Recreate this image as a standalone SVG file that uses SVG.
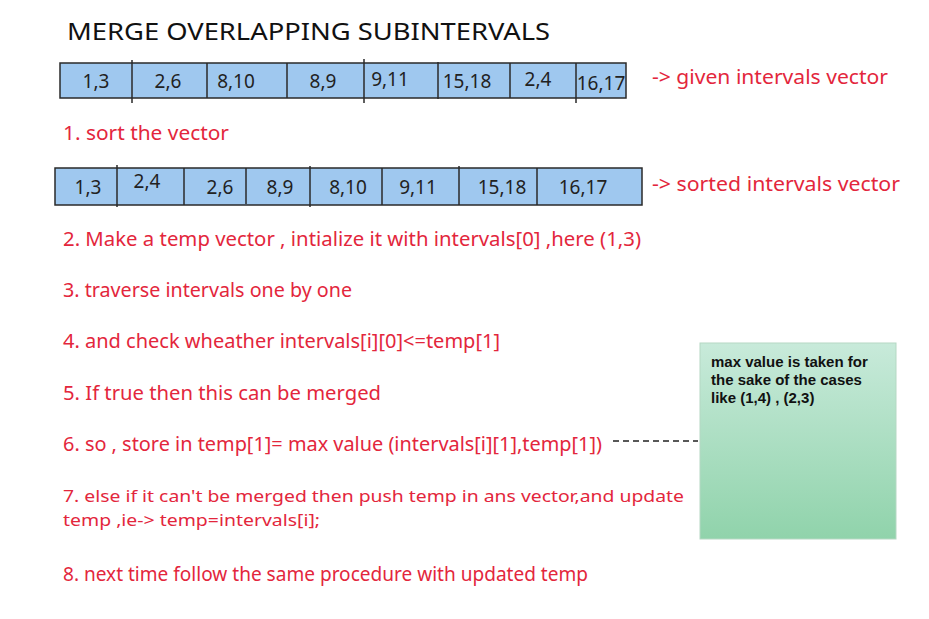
<svg xmlns="http://www.w3.org/2000/svg" width="929" height="619" viewBox="0 0 929 619">
<defs>
<linearGradient id="g" x1="0" y1="0" x2="0" y2="1">
<stop offset="0" stop-color="#c8eada"/>
<stop offset="1" stop-color="#90d3ab"/>
</linearGradient>
<style>
.t{font-family:"Noto Sans","Liberation Sans",sans-serif;fill:#e3263c;font-size:19px}
.s{font-size:17px}
.n{font-family:"Noto Sans","Liberation Sans",sans-serif;fill:#222;font-size:19px;text-anchor:middle}
.cell{fill:#9fc8ef;stroke:#2a2a2a;stroke-width:1.5}
.div{stroke:#2a2a2a;stroke-width:1.5}
.note{font-family:"Liberation Sans",Arial,sans-serif;font-weight:bold;font-size:15px;fill:#111}
</style>
</defs>
<rect width="929" height="619" fill="#fff"/>
<text x="67" y="40" font-family="Noto Sans, Liberation Sans, sans-serif" font-size="23" fill="#111" textLength="483" lengthAdjust="spacingAndGlyphs">MERGE OVERLAPPING SUBINTERVALS</text>

<g id="given-array">
<rect class="cell" x="60" y="63" width="566" height="35"/>
<line class="div" x1="132" y1="60" x2="132" y2="103"/>
<line class="div" x1="207" y1="63" x2="207" y2="98"/>
<line class="div" x1="287" y1="63" x2="287" y2="98"/>
<line class="div" x1="364" y1="59" x2="364" y2="103"/>
<line class="div" x1="438" y1="62" x2="438" y2="99"/>
<line class="div" x1="510" y1="63" x2="510" y2="98"/>
<line class="div" x1="576" y1="63" x2="576" y2="103"/>
<text class="n" x="96" y="88">1,3</text>
<text class="n" x="168" y="88">2,6</text>
<text class="n" x="236" y="88">8,10</text>
<text class="n" x="323" y="88">8,9</text>
<text class="n" x="390" y="86" font-size="17">9,11</text>
<text class="n" x="467" y="88">15,18</text>
<text class="n" x="538" y="86">2,4</text>
<text class="n" x="601" y="90" font-size="17">16,17</text>
</g>
<text class="t" x="652" y="84" textLength="236" lengthAdjust="spacingAndGlyphs">-&gt; given intervals vector</text>

<text class="t" x="63" y="140" textLength="166" lengthAdjust="spacingAndGlyphs">1. sort the vector</text>

<g id="sorted-array">
<rect class="cell" x="55" y="168" width="587" height="37"/>
<line class="div" x1="117" y1="165" x2="117" y2="207"/>
<line class="div" x1="184" y1="168" x2="184" y2="205"/>
<line class="div" x1="246" y1="168" x2="246" y2="204"/>
<line class="div" x1="310" y1="166" x2="310" y2="207"/>
<line class="div" x1="382" y1="168" x2="382" y2="205"/>
<line class="div" x1="459" y1="166" x2="459" y2="205"/>
<line class="div" x1="537" y1="168" x2="537" y2="205"/>
<text class="n" x="88" y="194">1,3</text>
<text class="n" x="147" y="188">2,4</text>
<text class="n" x="220" y="194">2,6</text>
<text class="n" x="280" y="194">8,9</text>
<text class="n" x="348" y="194">8,10</text>
<text class="n" x="418" y="194">9,11</text>
<text class="n" x="502" y="194">15,18</text>
<text class="n" x="583" y="194">16,17</text>
</g>
<text class="t" x="652" y="191" textLength="248" lengthAdjust="spacingAndGlyphs">-&gt; sorted intervals vector</text>

<text class="t" x="63" y="246" textLength="578" lengthAdjust="spacingAndGlyphs">2. Make a temp vector , intialize it with intervals[0] ,here (1,3)</text>
<text class="t" x="63" y="297" textLength="289" lengthAdjust="spacingAndGlyphs">3.  traverse intervals one by one</text>
<text class="t" x="63" y="348" textLength="437" lengthAdjust="spacingAndGlyphs">4.  and check wheather intervals[i][0]&lt;=temp[1]</text>
<text class="t" x="63" y="400" textLength="318" lengthAdjust="spacingAndGlyphs">5.  If true then this can be merged</text>
<text class="t" x="63" y="451" textLength="539" lengthAdjust="spacingAndGlyphs">6.  so , store in temp[1]= max value (intervals[i][1],temp[1])</text>
<text class="t s" x="63" y="502" textLength="621" lengthAdjust="spacingAndGlyphs">7.  else if it can't be merged then push temp in ans vector,and update</text>
<text class="t s" x="63" y="526" textLength="257" lengthAdjust="spacingAndGlyphs">temp ,ie-&gt; temp=intervals[i];</text>
<text class="t" x="63" y="581" textLength="525" lengthAdjust="spacingAndGlyphs">8. next time follow the same procedure with updated temp</text>

<g id="connectors">
<line x1="613" y1="441" x2="698" y2="441" stroke="#222" stroke-width="1.5" stroke-dasharray="6,4"/>
</g>

<g id="note">
<rect x="700" y="343" width="196" height="196" fill="url(#g)" stroke="#b5d8c3" stroke-width="1"/>
<text class="note" x="711" y="367">max value is taken for</text>
<text class="note" x="711" y="385">the sake of the cases</text>
<text class="note" x="711" y="403">like (1,4) , (2,3)</text>
</g>
</svg>
